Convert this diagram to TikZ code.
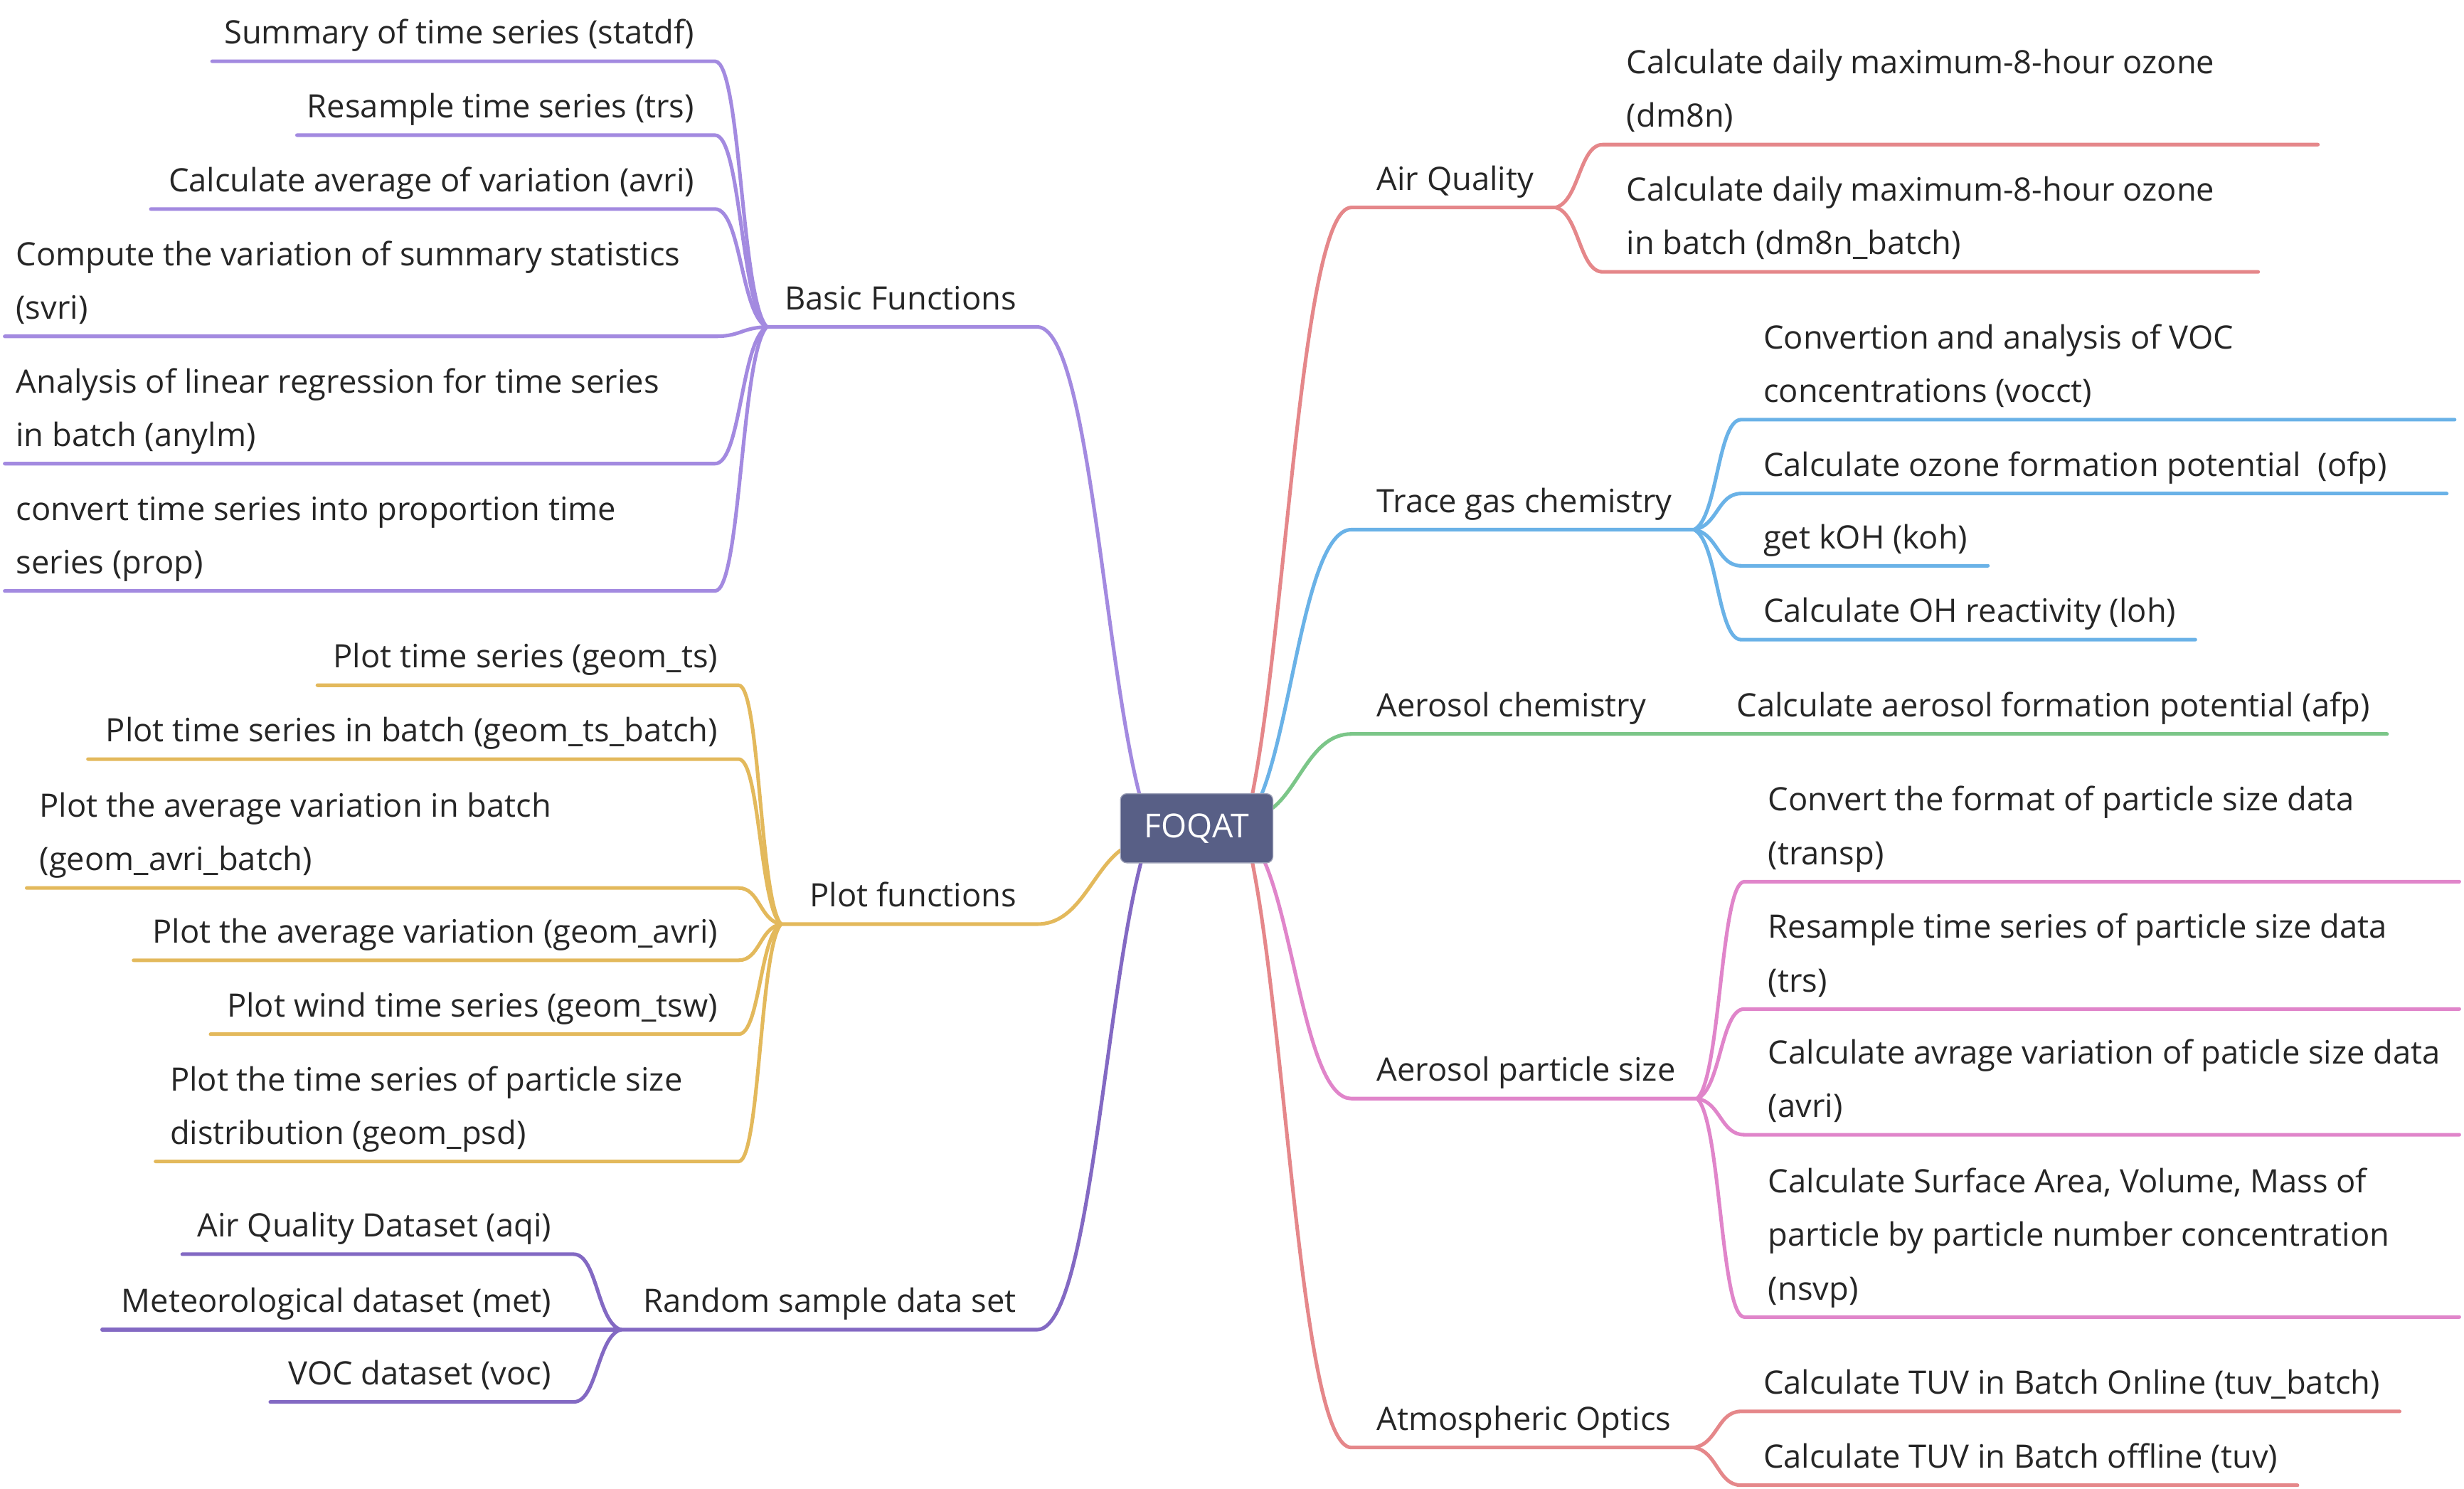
\documentclass[tikz,border=0pt]{standalone}
\usepackage{fontspec}
\setmainfont{Open Sans}
\usetikzlibrary{calc}
\definecolor{cBasic}{HTML}{A38AE0}
\definecolor{cPlot}{HTML}{E3B95C}
\definecolor{cRand}{HTML}{8369C3}
\definecolor{cRed}{HTML}{E5878A}
\definecolor{cBlue}{HTML}{6AB2E7}
\definecolor{cGreen}{HTML}{7BC688}
\definecolor{cPink}{HTML}{E085CA}
\definecolor{cBox}{HTML}{585F86}
\definecolor{txt}{HTML}{262626}
\tikzset{
  lbl/.style={inner sep=0pt, font=\fontsize{20.5}{34}\selectfont, text=txt, align=left},
  br/.style={line width=2.3pt, line cap=round, line join=round},
  sub/.style={to path={let \p1=(\tikztostart), \p2=(\tikztotarget) in
     .. controls ({\x1+0.5*(\x2-\x1)},{\y1+0.1*(\y2-\y1)}) and ({\x1+0.5*(\x2-\x1)},\y2) .. (\tikztotarget)}},
  mainc/.style={to path={let \p1=(\tikztostart), \p2=(\tikztotarget) in
     .. controls ({\x1+0.35*(\x2-\x1)},{\y1+0.3*(\y2-\y1)}) and ({\x1+0.5*(\x2-\x1)},\y2) .. (\tikztotarget)}},
}
\newcommand\mmsub[6]{%
  \coordinate (#3a) at (#4,#6);
  \coordinate (#3b) at (#5,#6);
  \draw[br,#1] (#2) to[sub] (#3a) -- (#3b);}
\begin{document}
\begin{tikzpicture}[x=1pt,y=-1pt]
\useasboundingbox (0,0) rectangle (1568,947);

% start points on the central box
\coordinate (sBasic) at (725,505);
\coordinate (sPlot) at (713,541);
\coordinate (sRand) at (726,549);
\coordinate (sAQ) at (797,505);
\coordinate (sTG) at (803,505);
\coordinate (sAC) at (810,514);
\coordinate (sPS) at (805,549);
\coordinate (sAO) at (797,549);

% ---------- Basic Functions ----------
\coordinate (bfJ) at (488,208);
\coordinate (bfT) at (660,208);
\draw[br,cBasic] (sBasic) to[mainc] (bfT) -- (bfJ);
\node[lbl,anchor=base east] (bf) at (647,197) {Basic Functions};
\mmsub{cBasic}{bfJ}{bf1}{455}{135}{39}
\mmsub{cBasic}{bfJ}{bf2}{455}{189}{86}
\mmsub{cBasic}{bfJ}{bf3}{455}{96}{133}
\mmsub{cBasic}{bfJ}{bf4}{455}{3}{214}
\mmsub{cBasic}{bfJ}{bf5}{455}{3}{295}
\mmsub{cBasic}{bfJ}{bf6}{455}{3}{376}
\node[lbl,anchor=base east] (bf1) at (442,28) {Summary of time series (statdf)};
\node[lbl,anchor=base east] (bf2) at (442,75) {Resample time series (trs)};
\node[lbl,anchor=base east] (bf3) at (442,122) {Calculate average of variation (avri)};
\node[lbl,anchor=base west] (bf4) at (10,203) {Compute the variation of summary statistics\\(svri)};
\node[lbl,anchor=base west] (bf5) at (10,284) {Analysis of linear regression for time series\\in batch (anylm)};
\node[lbl,anchor=base west] (bf6) at (10,365) {convert time series into proportion time\\series (prop)};

% ---------- Plot functions ----------
\coordinate (pfJ) at (497,588);
\coordinate (pfT) at (660,588);
\draw[br,cPlot] (sPlot) to[mainc] (pfT) -- (pfJ);
\node[lbl,anchor=base east] (pf) at (647,577) {Plot functions};
\mmsub{cPlot}{pfJ}{pf1}{470}{202}{436}
\mmsub{cPlot}{pfJ}{pf2}{470}{56}{483}
\mmsub{cPlot}{pfJ}{pf3}{470}{17}{565}
\mmsub{cPlot}{pfJ}{pf4}{470}{85}{611}
\mmsub{cPlot}{pfJ}{pf5}{470}{134}{658}
\mmsub{cPlot}{pfJ}{pf6}{470}{99}{739}
\node[lbl,anchor=base east] (pf1) at (457,425) {Plot time series (geom\_ts)};
\node[lbl,anchor=base east] (pf2) at (457,472) {Plot time series in batch (geom\_ts\_batch)};
\node[lbl,anchor=base west] (pf3) at (25,554) {Plot the average variation in batch\\(geom\_avri\_batch)};
\node[lbl,anchor=base east] (pf4) at (457,600) {Plot the average variation (geom\_avri)};
\node[lbl,anchor=base east] (pf5) at (457,647) {Plot wind time series (geom\_tsw)};
\node[lbl,anchor=base west] (pf6) at (108,728) {Plot the time series of particle size\\distribution (geom\_psd)};

% ---------- Random sample data set ----------
\coordinate (rdJ) at (395,846);
\coordinate (rdT) at (660,846);
\draw[br,cRand] (sRand) to[mainc] (rdT) -- (rdJ);
\node[lbl,anchor=base east] (rd) at (647,835) {Random sample data set};
\mmsub{cRand}{rdJ}{rd1}{365}{116}{798}
\mmsub{cRand}{rdJ}{rd2}{365}{65}{846}
\mmsub{cRand}{rdJ}{rd3}{365}{172}{892}
\node[lbl,anchor=base east] (rd1) at (351,787) {Air Quality Dataset (aqi)};
\node[lbl,anchor=base east] (rd2) at (351,835) {Meteorological dataset (met)};
\node[lbl,anchor=base east] (rd3) at (351,881) {VOC dataset (voc)};

% ---------- Air Quality ----------
\coordinate (aqT) at (860,132);
\coordinate (aqJ) at (990,132);
\draw[br,cRed] (sAQ) to[mainc] (aqT) -- (aqJ);
\node[lbl,anchor=base west] (aq) at (876,121) {Air Quality};
\mmsub{cRed}{aqJ}{aq1}{1020}{1475}{92}
\mmsub{cRed}{aqJ}{aq2}{1020}{1437}{173}
\node[lbl,anchor=base west] (aq1) at (1035,81) {Calculate daily maximum-8-hour ozone\\(dm8n)};
\node[lbl,anchor=base west] (aq2) at (1035,162) {Calculate daily maximum-8-hour ozone\\in batch (dm8n\_batch)};

% ---------- Trace gas chemistry ----------
\coordinate (tgT) at (860,337);
\coordinate (tgJ) at (1078,337);
\draw[br,cBlue] (sTG) to[mainc] (tgT) -- (tgJ);
\node[lbl,anchor=base west] (tg) at (876,326) {Trace gas chemistry};
\mmsub{cBlue}{tgJ}{tg1}{1108}{1562}{267}
\mmsub{cBlue}{tgJ}{tg2}{1108}{1557}{314}
\mmsub{cBlue}{tgJ}{tg3}{1108}{1265}{360}
\mmsub{cBlue}{tgJ}{tg4}{1108}{1397}{407}
\node[lbl,anchor=base west] (tg1) at (1122,256) {Convertion and analysis of VOC\\concentrations (vocct)};
\node[lbl,anchor=base west] (tg2) at (1122,303) {Calculate ozone formation potential\ \ (ofp)};
\node[lbl,anchor=base west] (tg3) at (1122,349) {get kOH (koh)};
\node[lbl,anchor=base west] (tg4) at (1122,396) {Calculate OH reactivity (loh)};

% ---------- Aerosol chemistry ----------
\coordinate (acT) at (860,467);
\coordinate (acJ) at (1090,467);
\coordinate (ac1b) at (1519,467);
\draw[br,cGreen] (sAC) to[mainc] (acT) -- (acJ) -- (ac1b);
\node[lbl,anchor=base west] (ac) at (876,456) {Aerosol chemistry};
\node[lbl,anchor=base west] (ac1) at (1105,456) {Calculate aerosol formation potential (afp)};

% ---------- Aerosol particle size ----------
\coordinate (psT) at (860,699);
\coordinate (psJ) at (1080,699);
\draw[br,cPink] (sPS) to[mainc] (psT) -- (psJ);
\node[lbl,anchor=base west] (ps) at (876,688) {Aerosol particle size};
\mmsub{cPink}{psJ}{ps1}{1110}{1565}{561}
\mmsub{cPink}{psJ}{ps2}{1110}{1565}{642}
\mmsub{cPink}{psJ}{ps3}{1110}{1565}{722}
\mmsub{cPink}{psJ}{ps4}{1110}{1565}{838}
\node[lbl,anchor=base west] (ps1) at (1125,550) {Convert the format of particle size data\\(transp)};
\node[lbl,anchor=base west] (ps2) at (1125,631) {Resample time series of particle size data\\(trs)};
\node[lbl,anchor=base west] (ps3) at (1125,711) {Calculate avrage variation of paticle size data\\(avri)};
\node[lbl,anchor=base west] (ps4) at (1125,827) {Calculate Surface Area, Volume, Mass of\\particle by particle number concentration\\(nsvp)};

% ---------- Atmospheric Optics ----------
\coordinate (aoT) at (860,921);
\coordinate (aoJ) at (1078,921);
\draw[br,cRed] (sAO) to[mainc] (aoT) -- (aoJ);
\node[lbl,anchor=base west] (ao) at (876,910) {Atmospheric Optics};
\mmsub{cRed}{aoJ}{ao1}{1108}{1527}{898}
\mmsub{cRed}{aoJ}{ao2}{1108}{1462}{945}
\node[lbl,anchor=base west] (ao1) at (1122,887) {Calculate TUV in Batch Online (tuv\_batch)};
\node[lbl,anchor=base west] (ao2) at (1122,934) {Calculate TUV in Batch offline (tuv)};

% ---------- central topic ----------
\node[fill=cBox, draw=cBox!60!white, line width=0.6pt, rounded corners=4pt,
      minimum width=97pt, minimum height=44pt, inner sep=0pt,
      text=white, font=\fontsize{21}{25}\selectfont] (c) at (761.5,527) {FOQAT};
\end{tikzpicture}
\end{document}
